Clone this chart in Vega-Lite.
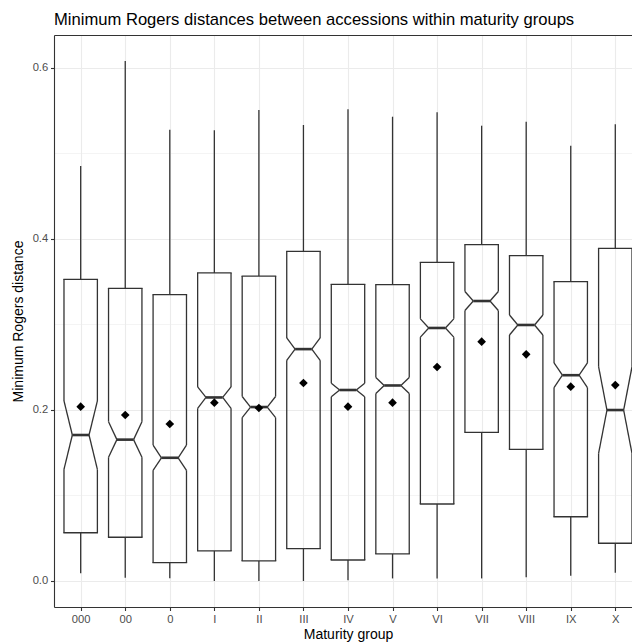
{
  "$schema": "https://vega.github.io/schema/vega-lite/v6.json",
  "width": 578,
  "height": 572,
  "autosize": {"type": "none"},
  "padding": {"left": 54, "top": 35, "right": 0, "bottom": 37},
  "background": "white",
  "config": {"font": "Liberation Sans", "view": {"stroke": null}},
  "title": {
    "text": "Minimum Rogers distances between accessions within maturity groups",
    "anchor": "start",
    "frame": "group",
    "fontSize": 16.6,
    "fontWeight": "normal",
    "color": "black",
    "baseline": "alphabetic",
    "offset": 11,
    "dy": 17.5
  },
  "data": {
    "values": [
      {"g": "000", "lower": 0.009, "q1": 0.0564, "notch_lo": 0.1305, "median": 0.1706, "notch_hi": 0.2104, "q3": 0.3526, "upper": 0.485, "mean": 0.2037},
      {"g": "00", "lower": 0.0039, "q1": 0.0511, "notch_lo": 0.1446, "median": 0.1652, "notch_hi": 0.1862, "q3": 0.342, "upper": 0.6077, "mean": 0.194},
      {"g": "0", "lower": 0.0032, "q1": 0.0214, "notch_lo": 0.1294, "median": 0.144, "notch_hi": 0.1589, "q3": 0.3346, "upper": 0.5274, "mean": 0.1835},
      {"g": "I", "lower": 0.0, "q1": 0.0351, "notch_lo": 0.2018, "median": 0.2145, "notch_hi": 0.2268, "q3": 0.36, "upper": 0.5267, "mean": 0.2084},
      {"g": "II", "lower": 0.0, "q1": 0.0234, "notch_lo": 0.191, "median": 0.2033, "notch_hi": 0.2156, "q3": 0.3564, "upper": 0.5504, "mean": 0.2022},
      {"g": "III", "lower": 0.0, "q1": 0.0378, "notch_lo": 0.2579, "median": 0.271, "notch_hi": 0.2841, "q3": 0.3853, "upper": 0.5329, "mean": 0.2314},
      {"g": "IV", "lower": 0.001, "q1": 0.0245, "notch_lo": 0.2154, "median": 0.2232, "notch_hi": 0.231, "q3": 0.3467, "upper": 0.5512, "mean": 0.2037},
      {"g": "V", "lower": 0.003, "q1": 0.0316, "notch_lo": 0.2191, "median": 0.2285, "notch_hi": 0.2379, "q3": 0.3463, "upper": 0.5426, "mean": 0.2084},
      {"g": "VI", "lower": 0.003, "q1": 0.09, "notch_lo": 0.285, "median": 0.2957, "notch_hi": 0.3064, "q3": 0.3724, "upper": 0.5477, "mean": 0.2501},
      {"g": "VII", "lower": 0.003, "q1": 0.1738, "notch_lo": 0.3161, "median": 0.3272, "notch_hi": 0.3383, "q3": 0.393, "upper": 0.5321, "mean": 0.2797},
      {"g": "VIII", "lower": 0.0043, "q1": 0.1539, "notch_lo": 0.2875, "median": 0.2992, "notch_hi": 0.3109, "q3": 0.3802, "upper": 0.5368, "mean": 0.2649},
      {"g": "IX", "lower": 0.0062, "q1": 0.0751, "notch_lo": 0.2261, "median": 0.2405, "notch_hi": 0.2549, "q3": 0.3498, "upper": 0.5087, "mean": 0.2271},
      {"g": "X", "lower": 0.0097, "q1": 0.0441, "notch_lo": 0.1492, "median": 0.1998, "notch_hi": 0.2504, "q3": 0.3888, "upper": 0.5337, "mean": 0.229}
    ]
  },
  "resolve": {"axis": {"x": "independent"}},
  "layer": [
    {
      "encoding": {
        "x": {
          "field": "g",
          "type": "nominal",
          "sort": ["000", "00", "0", "I", "II", "III", "IV", "V", "VI", "VII", "VIII", "IX", "X"],
          "scale": {"type": "point", "padding": 0.487, "align": 0.615},
          "axis": {
            "title": "Maturity group",
            "labelAngle": 0,
            "grid": true,
            "gridColor": "#EBEBEB",
            "gridWidth": 1.1,
            "tickSize": 3.5,
            "tickColor": "#333333",
            "tickWidth": 1.1,
            "domainColor": "#333333",
            "domainWidth": 1.1,
            "labelColor": "#4D4D4D",
            "labelFontSize": 11.2,
            "labelPadding": 2.6,
            "titleFontSize": 14,
            "titleFontWeight": "normal",
            "titleColor": "black",
            "titleX": 294,
            "titleY": 31,
            "titleAlign": "center",
            "titleBaseline": "alphabetic"
          }
        }
      },
      "layer": [
        {
          "mark": {"type": "rule", "color": "#333333", "strokeWidth": 1.3},
          "encoding": {
            "y": {"field": "q3", "type": "quantitative", "scale": {"domain": [-0.0304, 0.6381], "nice": false, "zero": false}},
            "y2": {"field": "upper"}
          }
        },
        {
          "mark": {"type": "rule", "color": "#333333", "strokeWidth": 1.3},
          "encoding": {
            "y": {"field": "lower", "type": "quantitative", "scale": {"domain": [-0.0304, 0.6381], "nice": false, "zero": false}},
            "y2": {"field": "q1"}
          }
        },
        {
          "mark": {"type": "rule", "color": "#333333", "strokeWidth": 1.3, "strokeCap": "square", "xOffset": -16.7, "x2Offset": 16.7},
          "encoding": {
            "x2": {"field": "g"},
            "y": {"field": "q3", "type": "quantitative", "scale": {"domain": [-0.0304, 0.6381], "nice": false, "zero": false}}
          }
        },
        {
          "mark": {"type": "rule", "color": "#333333", "strokeWidth": 1.3, "strokeCap": "square", "xOffset": -16.7, "x2Offset": 16.7},
          "encoding": {
            "x2": {"field": "g"},
            "y": {"field": "q1", "type": "quantitative", "scale": {"domain": [-0.0304, 0.6381], "nice": false, "zero": false}}
          }
        },
        {
          "mark": {"type": "rule", "color": "#333333", "strokeWidth": 1.3, "xOffset": -16.7},
          "encoding": {
            "y": {"field": "notch_hi", "type": "quantitative", "scale": {"domain": [-0.0304, 0.6381], "nice": false, "zero": false}},
            "y2": {"field": "q3"}
          }
        },
        {
          "mark": {"type": "rule", "color": "#333333", "strokeWidth": 1.3, "xOffset": 16.7},
          "encoding": {
            "y": {"field": "notch_hi", "type": "quantitative", "scale": {"domain": [-0.0304, 0.6381], "nice": false, "zero": false}},
            "y2": {"field": "q3"}
          }
        },
        {
          "mark": {"type": "rule", "color": "#333333", "strokeWidth": 1.3, "xOffset": -16.7},
          "encoding": {
            "y": {"field": "q1", "type": "quantitative", "scale": {"domain": [-0.0304, 0.6381], "nice": false, "zero": false}},
            "y2": {"field": "notch_lo"}
          }
        },
        {
          "mark": {"type": "rule", "color": "#333333", "strokeWidth": 1.3, "xOffset": 16.7},
          "encoding": {
            "y": {"field": "q1", "type": "quantitative", "scale": {"domain": [-0.0304, 0.6381], "nice": false, "zero": false}},
            "y2": {"field": "notch_lo"}
          }
        },
        {
          "mark": {"type": "rule", "color": "#333333", "strokeWidth": 1.3, "xOffset": -16.7, "x2Offset": -8.35},
          "encoding": {
            "x2": {"field": "g"},
            "y": {"field": "notch_hi", "type": "quantitative", "scale": {"domain": [-0.0304, 0.6381], "nice": false, "zero": false}},
            "y2": {"field": "median"}
          }
        },
        {
          "mark": {"type": "rule", "color": "#333333", "strokeWidth": 1.3, "xOffset": 16.7, "x2Offset": 8.35},
          "encoding": {
            "x2": {"field": "g"},
            "y": {"field": "notch_hi", "type": "quantitative", "scale": {"domain": [-0.0304, 0.6381], "nice": false, "zero": false}},
            "y2": {"field": "median"}
          }
        },
        {
          "mark": {"type": "rule", "color": "#333333", "strokeWidth": 1.3, "xOffset": -16.7, "x2Offset": -8.35},
          "encoding": {
            "x2": {"field": "g"},
            "y": {"field": "notch_lo", "type": "quantitative", "scale": {"domain": [-0.0304, 0.6381], "nice": false, "zero": false}},
            "y2": {"field": "median"}
          }
        },
        {
          "mark": {"type": "rule", "color": "#333333", "strokeWidth": 1.3, "xOffset": 16.7, "x2Offset": 8.35},
          "encoding": {
            "x2": {"field": "g"},
            "y": {"field": "notch_lo", "type": "quantitative", "scale": {"domain": [-0.0304, 0.6381], "nice": false, "zero": false}},
            "y2": {"field": "median"}
          }
        },
        {
          "mark": {"type": "rule", "color": "#333333", "strokeWidth": 2.6, "xOffset": -8.35, "x2Offset": 8.35},
          "encoding": {
            "x2": {"field": "g"},
            "y": {"field": "median", "type": "quantitative", "scale": {"domain": [-0.0304, 0.6381], "nice": false, "zero": false}}
          }
        }
      ]
    },
    {
      "mark": {"type": "point", "shape": "diamond", "filled": true, "size": 75, "color": "black", "opacity": 1},
      "encoding": {
        "x": {
          "field": "g",
          "type": "nominal",
          "sort": ["000", "00", "0", "I", "II", "III", "IV", "V", "VI", "VII", "VIII", "IX", "X"],
          "axis": {"orient": "top", "labels": false, "ticks": false, "grid": false, "title": null, "domainColor": "#333333", "domainWidth": 1.1}
        },
        "y": {
          "field": "mean",
          "type": "quantitative",
          "scale": {"domain": [-0.0304, 0.6381], "nice": false, "zero": false},
          "axis": {
            "title": "Minimum Rogers distance",
            "values": [0, 0.1, 0.2, 0.3, 0.4, 0.5, 0.6],
            "labelExpr": "round(datum.value * 10) % 2 == 0 ? format(datum.value, '.1f') : ''",
            "tickSize": {"condition": {"test": "round(datum.value * 10) % 2 == 0", "value": 3.5}, "value": 0},
            "gridWidth": {"condition": {"test": "round(datum.value * 10) % 2 == 0", "value": 1.1}, "value": 0.55},
            "grid": true,
            "gridColor": "#EBEBEB",
            "tickColor": "#333333",
            "tickWidth": 1.1,
            "domainColor": "#333333",
            "domainWidth": 1.1,
            "labelColor": "#4D4D4D",
            "labelFontSize": 11.2,
            "labelPadding": 2.8,
            "titleFontSize": 14,
            "titleFontWeight": "normal",
            "titleColor": "black",
            "titleAngle": -90,
            "titleX": -31.5,
            "titleY": 286,
            "titleAlign": "center",
            "titleBaseline": "alphabetic"
          }
        }
      }
    }
  ]
}
